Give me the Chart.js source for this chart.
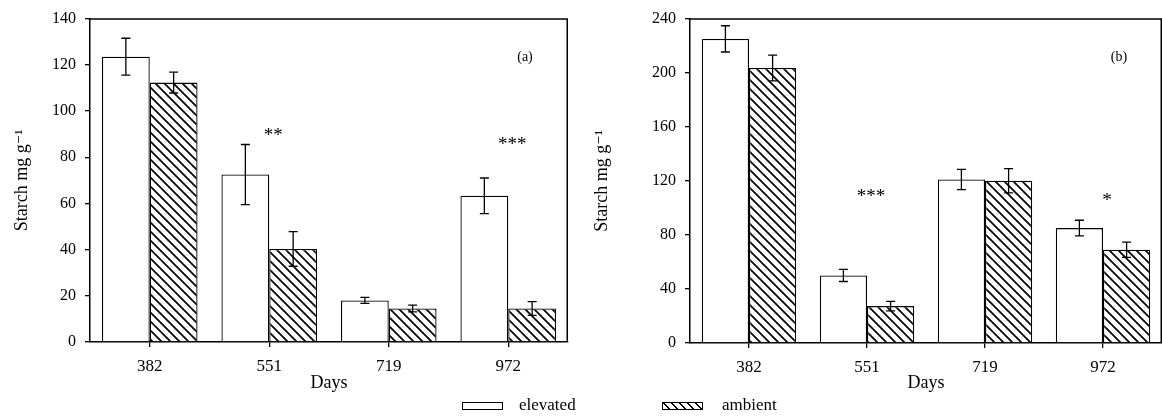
<!DOCTYPE html>
<html>
<head>
<meta charset="utf-8">
<script src="https://cdn.jsdelivr.net/npm/chart.js@4/dist/chart.umd.min.js"></script>
<style>
  html, body { margin: 0; padding: 0; background: #fff; }
  #wrap { position: relative; width: 1162px; height: 420px; overflow: hidden;
          font-family: "Liberation Serif", "DejaVu Serif", serif; color: #000; }
  #chartA { position: absolute; left: 0; top: 0; }
  #chartB { position: absolute; left: 580px; top: 0; }
  .sw { position: absolute; top: 402px; width: 39px; height: 6px; border: 1.5px solid #000; background: #fff; }
  .sw.hatched { background: repeating-linear-gradient(45deg, #fff 0 4px, #000 4px 5.6px); }
  .lbl { position: absolute; top: 395px; font-size: 17px; line-height: 20px; }
</style>
</head>
<body>
<div id="wrap">
  <canvas id="chartA" width="580" height="420"></canvas>
  <canvas id="chartB" width="582" height="420"></canvas>
  <div class="sw" style="left:462px"></div><div class="lbl" style="left:519px">elevated</div>
  <div class="sw hatched" style="left:662px"></div><div class="lbl" style="left:722px">ambient</div>
</div>
<script>
// Sampling days (x categories)
const days = ['382', '551', '719', '972'];

// Panel (a): starch, mg g-1
const elevatedA    = [123.5, 72.5, 18.0, 63.3];
const elevatedAErr = [8.0, 13.0, 1.3, 7.7];
const ambientA     = [112.3, 40.3, 14.5, 14.5];
const ambientAErr  = [4.5, 7.5, 1.5, 3.0];
const sigA         = ['', '**', '', '***'];
const sigAAt       = [null, 91, null, 87];
const yTicksA      = [0, 20, 40, 60, 80, 100, 120, 140];

// Panel (b): starch, mg g-1
const elevatedB    = [225.0, 50.0, 121.0, 85.0];
const elevatedBErr = [9.7, 4.5, 7.5, 5.8];
const ambientB     = [203.5, 27.3, 120.0, 69.0];
const ambientBErr  = [9.5, 3.5, 9.0, 5.7];
const sigB         = ['', '***', '', '*'];
const sigBAt       = [null, 111, null, 108];
const yTicksB      = [0, 40, 80, 120, 160, 200, 240];

const SERIF = '"Liberation Serif", "DejaVu Serif", serif';

// Diagonal hatch fill for the ambient bars
function makeHatch() {
  const s = 9;
  const c = document.createElement('canvas');
  c.width = s; c.height = s;
  const g = c.getContext('2d');
  g.fillStyle = '#fff';
  g.fillRect(0, 0, s, s);
  g.strokeStyle = '#000';
  g.lineWidth = 1.7;
  g.beginPath();
  g.moveTo(-2, -2); g.lineTo(s + 2, s + 2);
  g.moveTo(-2, s - 2); g.lineTo(2, s + 2);
  g.moveTo(s - 2, -2); g.lineTo(s + 2, 2);
  g.stroke();
  return g.createPattern(c, 'repeat');
}
const hatch = makeHatch();

// Error bars, frame, panel tag and significance stars
const decorations = {
  id: 'decorations',
  afterDatasetsDraw(chart, args, opts) {
    const { ctx, chartArea: a } = chart;
    const xs = chart.scales.x, ys = chart.scales.y;
    ctx.save();
    ctx.strokeStyle = '#000';
    ctx.lineWidth = 1.3;
    chart.data.datasets.forEach((ds, i) => {
      const meta = chart.getDatasetMeta(i);
      meta.data.forEach((bar, j) => {
        const v = ds.data[j], e = ds.errors[j];
        const top = ys.getPixelForValue(v + e);
        const bot = ys.getPixelForValue(v - e);
        ctx.beginPath();
        ctx.moveTo(bar.x, top); ctx.lineTo(bar.x, bot);
        ctx.moveTo(bar.x - 4.5, top); ctx.lineTo(bar.x + 4.5, top);
        ctx.moveTo(bar.x - 4.5, bot); ctx.lineTo(bar.x + 4.5, bot);
        ctx.stroke();
      });
    });
    // top and right frame lines
    ctx.lineWidth = 1.5;
    ctx.beginPath();
    ctx.moveTo(a.left, a.top + 0.5);
    ctx.lineTo(a.right - 0.75, a.top + 0.5);
    ctx.lineTo(a.right - 0.75, a.bottom);
    ctx.stroke();
    // panel tag
    ctx.fillStyle = '#000';
    ctx.font = '14px ' + SERIF;
    ctx.textAlign = 'center';
    ctx.textBaseline = 'middle';
    ctx.fillText(opts.tag, a.right - 43, a.top + 39);
    // significance stars
    ctx.font = '19px ' + SERIF;
    opts.stars.forEach((s, j) => {
      if (!s) return;
      const x = xs.getPixelForValue(j) + 4;
      const y = ys.getPixelForValue(opts.starsAt[j]);
      ctx.fillText(s, x, y + 4);
    });
    ctx.restore();
  }
};

function buildChart(id, cfg) {
  return new Chart(document.getElementById(id), {
    type: 'bar',
    data: {
      labels: days,
      datasets: [
        { label: 'elevated', data: cfg.elevated, errors: cfg.elevatedErr,
          backgroundColor: '#fff', borderColor: '#000', borderWidth: 1.3,
          categoryPercentage: 0.8, barPercentage: 1.0 },
        { label: 'ambient', data: cfg.ambient, errors: cfg.ambientErr,
          backgroundColor: hatch, borderColor: '#000', borderWidth: 1.3,
          categoryPercentage: 0.8, barPercentage: 1.0 }
      ]
    },
    options: {
      responsive: false,
      animation: false,
      devicePixelRatio: 1,
      layout: { padding: { top: cfg.padTop, right: cfg.padRight, bottom: 0, left: 0 } },
      plugins: {
        legend: { display: false },
        tooltip: { enabled: false },
        decorations: { tag: cfg.tag, stars: cfg.stars, starsAt: cfg.starsAt }
      },
      scales: {
        x: {
          grid: { display: true, offset: false, drawOnChartArea: false, drawTicks: true,
                  tickLength: 5, color: '#000', lineWidth: 1.3 },
          border: { display: true, color: '#000', width: 1.5 },
          ticks: { color: '#000', font: { family: SERIF, size: 17 }, padding: 9, maxRotation: 0 },
          title: { display: true, text: 'Days', color: '#000',
                   font: { family: SERIF, size: 18 }, padding: { top: 0, bottom: 26 } },
          afterFit(scale) { scale.height = 420 - cfg.bottom; }
        },
        y: {
          min: 0, max: cfg.yTicks[cfg.yTicks.length - 1],
          afterBuildTicks(scale) { scale.ticks = cfg.yTicks.map(v => ({ value: v })); },
          grid: { display: true, drawOnChartArea: false, drawTicks: true,
                  tickLength: 5, color: '#000', lineWidth: 1.3 },
          border: { display: true, color: '#000', width: 1.5 },
          ticks: { color: '#000', font: { family: SERIF, size: 16 }, padding: 9 },
          title: { display: true, text: 'Starch mg g\u207B\u00B9', color: '#000',
                   font: { family: SERIF, size: 18 }, padding: { top: 11, bottom: 0 } },
          afterFit(scale) { scale.width = cfg.yWidth; }
        }
      }
    },
    plugins: [decorations]
  });
}

buildChart('chartA', {
  elevated: elevatedA, elevatedErr: elevatedAErr,
  ambient: ambientA, ambientErr: ambientAErr,
  stars: sigA, starsAt: sigAAt, yTicks: yTicksA, tag: '(a)',
  padTop: 11, padRight: 12, bottom: 342, yWidth: 90
});

buildChart('chartB', {
  elevated: elevatedB, elevatedErr: elevatedBErr,
  ambient: ambientB, ambientErr: ambientBErr,
  stars: sigB, starsAt: sigBAt, yTicks: yTicksB, tag: '(b)',
  padTop: 15, padRight: 0, bottom: 343, yWidth: 110
});
</script>
</body>
</html>
